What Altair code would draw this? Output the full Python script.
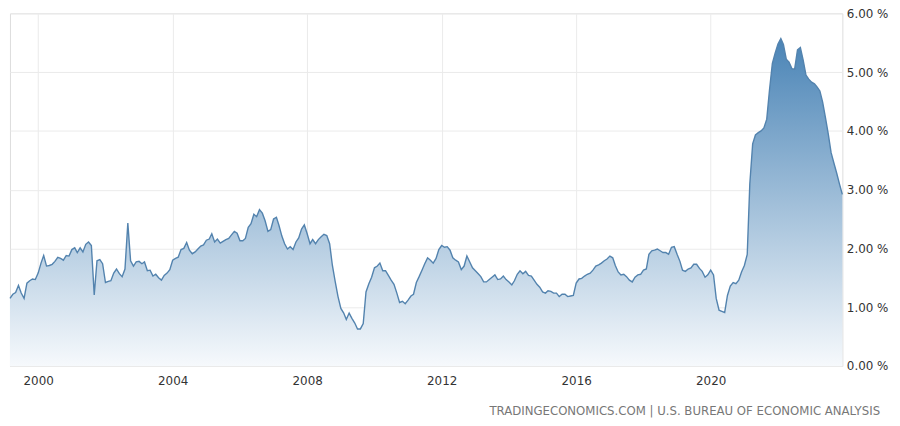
import altair as alt
import pandas as pd

# Monthly readings, Mar 1999 .. Dec 2023 (percent)
values_1999 = [1.15, 1.22, 1.25, 1.37, 1.24, 1.15, 1.41, 1.45, 1.48, 1.47]
values_2000 = [1.58, 1.75, 1.88, 1.70, 1.71, 1.73, 1.78, 1.85, 1.83, 1.80, 1.88, 1.87]
values_2001 = [1.98, 2.01, 1.93, 2.01, 1.94, 2.07, 2.11, 2.05, 1.21, 1.79, 1.81, 1.74]
values_2002 = [1.42, 1.44, 1.45, 1.58, 1.65, 1.57, 1.52, 1.65, 2.43, 1.79, 1.70, 1.77]
values_2003 = [1.78, 1.74, 1.77, 1.62, 1.63, 1.53, 1.56, 1.50, 1.46, 1.54, 1.58, 1.64]
values_2004 = [1.80, 1.83, 1.85, 1.98, 2.00, 2.10, 1.97, 1.91, 1.94, 1.99, 2.04, 2.06]
values_2005 = [2.14, 2.16, 2.25, 2.11, 2.16, 2.09, 2.12, 2.15, 2.17, 2.23, 2.29, 2.26]
values_2006 = [2.13, 2.13, 2.17, 2.36, 2.42, 2.58, 2.54, 2.66, 2.60, 2.47, 2.29, 2.32]
values_2007 = [2.50, 2.53, 2.39, 2.21, 2.08, 1.99, 2.03, 1.98, 2.11, 2.18, 2.33, 2.40]
values_2008 = [2.25, 2.08, 2.15, 2.08, 2.15, 2.20, 2.24, 2.22, 2.08, 1.71, 1.43, 1.18]
values_2009 = [0.98, 0.90, 0.79, 0.90, 0.81, 0.73, 0.63, 0.63, 0.72, 1.26, 1.40, 1.51]
values_2010 = [1.67, 1.70, 1.75, 1.62, 1.62, 1.54, 1.46, 1.39, 1.24, 1.08, 1.10, 1.06]
values_2011 = [1.12, 1.19, 1.22, 1.42, 1.52, 1.63, 1.74, 1.84, 1.80, 1.75, 1.83, 1.98]
values_2012 = [2.05, 2.02, 2.03, 1.97, 1.84, 1.80, 1.77, 1.64, 1.70, 1.87, 1.77, 1.67]
values_2013 = [1.62, 1.57, 1.52, 1.43, 1.43, 1.47, 1.51, 1.55, 1.47, 1.48, 1.53, 1.47]
values_2014 = [1.43, 1.38, 1.45, 1.56, 1.62, 1.57, 1.61, 1.54, 1.53, 1.46, 1.39, 1.34]
values_2015 = [1.26, 1.24, 1.28, 1.27, 1.24, 1.24, 1.18, 1.22, 1.22, 1.18, 1.19, 1.20]
values_2016 = [1.41, 1.48, 1.49, 1.53, 1.56, 1.58, 1.63, 1.70, 1.72, 1.75, 1.79, 1.82]
values_2017 = [1.87, 1.84, 1.71, 1.60, 1.55, 1.56, 1.52, 1.46, 1.43, 1.51, 1.55, 1.56]
values_2018 = [1.63, 1.65, 1.90, 1.96, 1.97, 1.99, 1.96, 1.93, 1.93, 1.90, 2.02, 2.03]
values_2019 = [1.90, 1.78, 1.63, 1.61, 1.65, 1.67, 1.73, 1.73, 1.66, 1.61, 1.51, 1.55]
values_2020 = [1.63, 1.55, 1.15, 0.95, 0.93, 0.91, 1.20, 1.36, 1.42, 1.40, 1.46, 1.60]
values_2021 = [1.71, 1.90, 3.10, 3.78, 3.93, 3.97, 4.00, 4.05, 4.20, 4.70, 5.15, 5.32]
values_2022 = [5.48, 5.57, 5.47, 5.22, 5.17, 5.06, 5.05, 5.38, 5.42, 5.21, 4.95, 4.88]
values_2023 = [4.83, 4.80, 4.75, 4.68, 4.49, 4.22, 3.95, 3.63, 3.45, 3.28, 3.09, 2.92]

year_ticks = [2000, 2004, 2008, 2012, 2016, 2020]
y_ticks = [0, 1, 2, 3, 4, 5, 6]
source_text = "TRADINGECONOMICS.COM | U.S. BUREAU OF ECONOMIC ANALYSIS"

values = (values_1999 + values_2000 + values_2001 + values_2002 + values_2003 + values_2004
          + values_2005 + values_2006 + values_2007 + values_2008 + values_2009 + values_2010
          + values_2011 + values_2012 + values_2013 + values_2014 + values_2015 + values_2016
          + values_2017 + values_2018 + values_2019 + values_2020 + values_2021 + values_2022
          + values_2023)
dates = pd.date_range(start="1999-03-01", periods=len(values), freq="MS")
df = pd.DataFrame({"date": dates.strftime("%Y-%m-%d"), "value": values})

FONT = "DejaVu Sans"
LABEL_SIZE = 12
LABEL_COLOR = "#333333"
GRID_COLOR = "#ebebeb"

x_enc = alt.X(
    "date:T",
    scale=alt.Scale(nice=False),
    axis=alt.Axis(
        values=[alt.DateTime(year=y, month=1, date=1) for y in year_ticks],
        format="%Y",
        title=None,
        grid=True,
        gridColor=GRID_COLOR,
        ticks=False,
        domain=False,
        labelPadding=10,
        labelFont=FONT,
        labelFontSize=LABEL_SIZE,
        labelColor=LABEL_COLOR,
    ),
)
y_enc = alt.Y(
    "value:Q",
    scale=alt.Scale(domain=[0, 6], nice=False),
    axis=alt.Axis(
        orient="right",
        values=y_ticks,
        labelExpr="format(datum.value, '.2f') + ' %'",
        title=None,
        grid=True,
        gridColor=GRID_COLOR,
        ticks=False,
        domain=False,
        labelPadding=4,
        labelFont=FONT,
        labelFontSize=LABEL_SIZE,
        labelColor=LABEL_COLOR,
    ),
)

base = alt.Chart(df)

area = base.mark_area(
    color=alt.Gradient(
        gradient="linear",
        stops=[
            alt.GradientStop(color="#4a84b6", offset=0),
            alt.GradientStop(color="#f6f9fc", offset=1),
        ],
        x1=0, x2=0, y1=0, y2=1,
    ),
    interpolate="linear",
).encode(x=x_enc, y=y_enc)

line = base.mark_line(color="#5383ae", strokeWidth=1.4).encode(x=x_enc, y=y_enc)

chart = (
    alt.layer(area, line)
    .properties(
        width=838,
        height=355,
        padding={"left": 2, "top": 4, "right": 50, "bottom": 51},
        autosize=alt.AutoSizeParams(type="none"),
        title=alt.TitleParams(
            text=source_text,
            orient="bottom",
            anchor="end",
            frame="group",
            font=FONT,
            fontSize=11.8,
            fontWeight="normal",
            color="#777777",
            offset=19,
            dx=38,
        ),
    )
    .configure_view(stroke=None)
    .configure(background="white")
)

chart.save("out.html", embed_options={"renderer": "svg", "actions": False})
